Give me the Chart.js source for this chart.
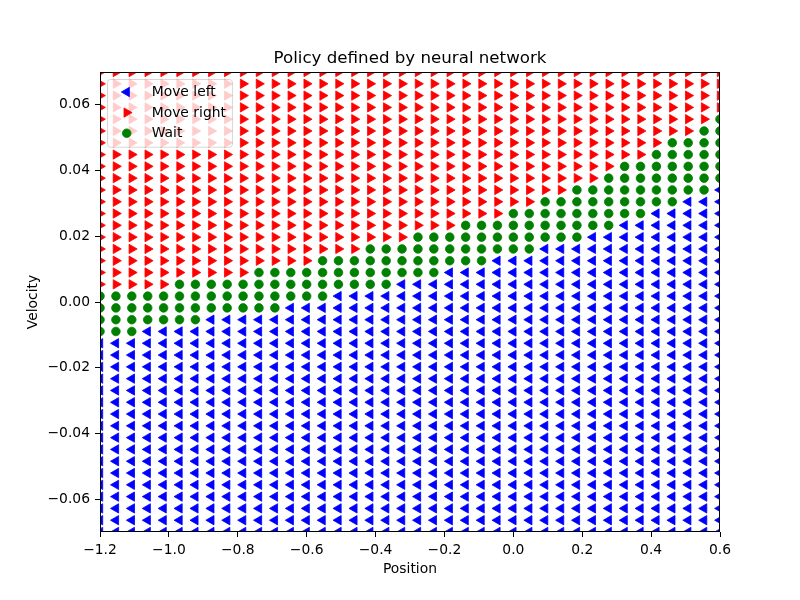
<!DOCTYPE html>
<html>
<head>
<meta charset="utf-8">
<script src="https://cdn.jsdelivr.net/npm/chart.js@4.4.1/dist/chart.umd.min.js"></script>
<style>
  body { margin: 0; background: #fff; }
</style>
</head>
<body>
<canvas id="policy" width="800" height="600"></canvas>
<script>
// grid of states the network was asked about
const positions = [
  -1.2000, -1.1538, -1.1077, -1.0615, -1.0154, -0.9692, -0.9231, -0.8769, -0.8308, -0.7846,
  -0.7385, -0.6923, -0.6462, -0.6000, -0.5538, -0.5077, -0.4615, -0.4154, -0.3692, -0.3231,
  -0.2769, -0.2308, -0.1846, -0.1385, -0.0923, -0.0462, 0.0000, 0.0462, 0.0923, 0.1385,
  0.1846, 0.2308, 0.2769, 0.3231, 0.3692, 0.4154, 0.4615, 0.5077, 0.5538, 0.6000
];
const velocities = [
  -0.07000, -0.06641, -0.06282, -0.05923, -0.05564, -0.05205, -0.04846, -0.04487, -0.04128, -0.03769,
  -0.03410, -0.03051, -0.02692, -0.02333, -0.01974, -0.01615, -0.01256, -0.00897, -0.00538, -0.00179,
  0.00179, 0.00538, 0.00897, 0.01256, 0.01615, 0.01974, 0.02333, 0.02692, 0.03051, 0.03410,
  0.03769, 0.04128, 0.04487, 0.04846, 0.05205, 0.05564, 0.05923, 0.06282, 0.06641, 0.07000
];
// per position column: first and last velocity index where the policy says "Wait"
// below waitLow -> move left, above waitHigh -> move right
const waitLow = [
  17, 17, 17, 18, 18, 18, 18, 19, 19, 19,
  19, 19, 20, 20, 20, 21, 21, 21, 21, 22,
  22, 22, 23, 23, 23, 24, 24, 24, 25, 25,
  25, 26, 26, 27, 27, 28, 28, 29, 29, 30
];
const waitHigh = [
  20, 20, 20, 20, 20, 21, 21, 21, 21, 21,
  22, 22, 22, 22, 23, 23, 23, 24, 24, 24,
  25, 25, 25, 26, 26, 26, 27, 27, 28, 28,
  29, 29, 30, 31, 31, 32, 33, 33, 34, 35
];
const xTicks = [-1.2, -1.0, -0.8, -0.6, -0.4, -0.2, 0.0, 0.2, 0.4, 0.6];
const yTicks = [-0.06, -0.04, -0.02, 0.00, 0.02, 0.04, 0.06];
const actionNames = ['Move left', 'Move right', 'Wait'];

const moveLeft = [], moveRight = [], wait = [];
positions.forEach((p, i) => {
  velocities.forEach((v, j) => {
    const pt = { x: p, y: v };
    if (j < waitLow[i]) moveLeft.push(pt);
    else if (j > waitHigh[i]) moveRight.push(pt);
    else wait.push(pt);
  });
});

const FONT = 'DejaVu Sans';
const FS = 13.89;
Chart.defaults.font.family = FONT;
Chart.defaults.font.size = FS;
Chart.defaults.color = '#000';

const minus = (s) => s.replace('-', '\u2212');

// matplotlib style box around the axes
const frame = {
  id: 'frame',
  afterDatasetsDraw(chart) {
    const { ctx, chartArea: a } = chart;
    ctx.save();
    ctx.strokeStyle = '#000';
    ctx.lineWidth = 1;
    ctx.strokeRect(Math.round(a.left) + 0.5, Math.round(a.top) + 0.5,
      Math.round(a.right - a.left) - 1, Math.round(a.bottom - a.top) - 1);
    ctx.restore();
  }
};

// legend inside the plot, upper left
const legendBox = {
  id: 'legendBox',
  afterDraw(chart) {
    const { ctx, chartArea } = chart;
    ctx.save();
    ctx.font = FS + 'px "' + FONT + '"';
    const sets = chart.data.datasets;
    const textW = Math.max(...sets.map(d => ctx.measureText(d.label).width));
    const x0 = chartArea.left + 7, y0 = chartArea.top + 7;
    const w = 44.7 + textW + 6, h = 67.7;
    ctx.beginPath();
    ctx.roundRect(x0 + 0.5, y0 + 0.5, w, h, 3);
    ctx.fillStyle = 'rgba(255,255,255,0.8)';
    ctx.fill();
    ctx.strokeStyle = 'rgba(204,204,204,0.8)';
    ctx.lineWidth = 1;
    ctx.stroke();
    sets.forEach((d, k) => {
      const cy = y0 + 13 + k * 20.6;
      ctx.fillStyle = d.pointBackgroundColor;
      ctx.strokeStyle = d.pointBorderColor;
      ctx.lineWidth = d.pointBorderWidth;
      Chart.helpers.drawPoint(ctx, {
        pointStyle: d.pointStyle,
        radius: d.pointRadius,
        rotation: d.pointRotation,
        borderWidth: d.pointBorderWidth
      }, x0 + 19.7, cy);
      ctx.fillStyle = '#000';
      ctx.textBaseline = 'middle';
      ctx.textAlign = 'left';
      ctx.fillText(d.label, x0 + 44.7, cy + 0.5);
    });
    ctx.restore();
  }
};

const marker = (color, style, radius, rotation) => ({
  pointStyle: style,
  pointRadius: radius,
  pointRotation: rotation,
  pointBackgroundColor: color,
  pointBorderColor: color,
  pointBorderWidth: 0.8,
  showLine: false,
  clip: 0
});

new Chart(document.getElementById('policy'), {
  type: 'scatter',
  data: {
    datasets: [
      { label: actionNames[0], data: moveLeft, ...marker('#0000ff', 'triangle', 5.4, 270) },
      { label: actionNames[1], data: moveRight, ...marker('#ff0000', 'triangle', 5.4, 90) },
      { label: actionNames[2], data: wait, ...marker('#008000', 'circle', 4.3, 0) }
    ]
  },
  options: {
    responsive: false,
    animation: false,
    events: [],
    layout: { padding: { left: 0, right: 80, top: 0, bottom: 0 } },
    plugins: {
      legend: { display: false },
      tooltip: { enabled: false },
      title: {
        display: true,
        fullSize: false,
        text: 'Policy defined by neural network',
        font: { size: 16.67, weight: 'normal' },
        color: '#000',
        padding: { top: 49, bottom: 3 }
      }
    },
    scales: {
      x: {
        type: 'linear',
        min: -1.2,
        max: 0.6,
        afterBuildTicks: s => { s.ticks = xTicks.map(v => ({ value: v })); },
        afterFit: s => { s.height = 68; },
        ticks: { padding: 5, maxRotation: 0, callback: v => minus(v.toFixed(1)) },
        grid: { display: true, drawOnChartArea: false, drawTicks: true, tickLength: 5, color: '#000' },
        border: { display: false },
        title: { display: true, text: 'Position', padding: { top: 0, bottom: 22 } }
      },
      y: {
        type: 'linear',
        min: -0.07,
        max: 0.07,
        afterBuildTicks: s => { s.ticks = yTicks.map(v => ({ value: v })); },
        afterFit: s => { s.width = 100; },
        ticks: { padding: 5, callback: v => minus(v.toFixed(2)) },
        grid: { display: true, drawOnChartArea: false, drawTicks: true, tickLength: 5, color: '#000' },
        border: { display: false },
        title: { display: true, text: 'Velocity', padding: { top: 25.5, bottom: 0 } }
      }
    }
  },
  plugins: [frame, legendBox]
});
</script>
</body>
</html>
